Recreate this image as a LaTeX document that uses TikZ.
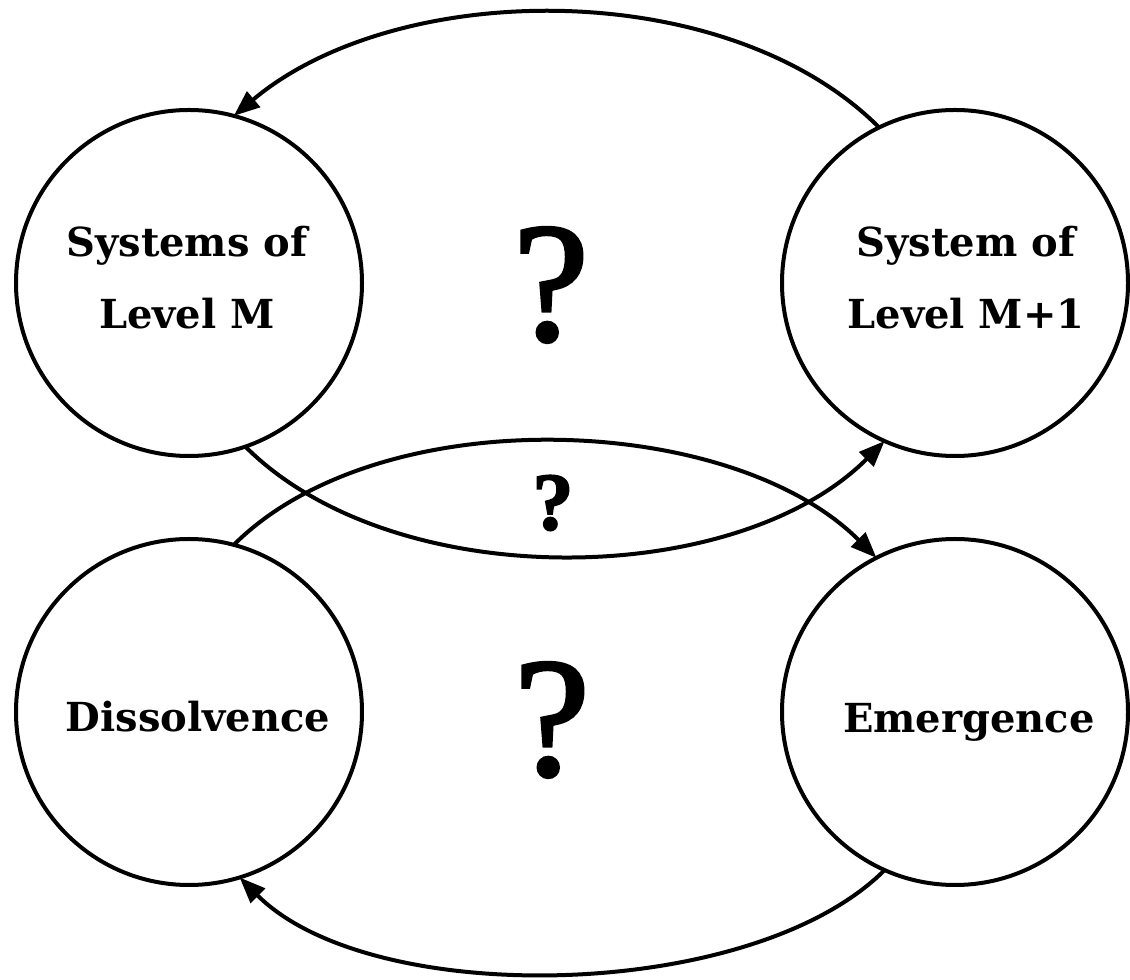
\documentclass[tikz,border=0pt]{standalone}
\usepackage{fontspec}
\setmainfont{DejaVu Serif}
\newfontfamily\qfont[FakeBold=2]{Liberation Serif}
\usetikzlibrary{arrows.meta}
\begin{document}
\begin{tikzpicture}[x=1pt,y=1pt,
  every node/.style={inner sep=0pt, outer sep=0pt},
  circ/.style={circle, draw, line width=4pt, minimum size=346pt},
  lbl/.style={font={\bfseries\fontsize{40pt}{72pt}\selectfont}, align=center},
  bigq/.style={font={\qfont\fontsize{170pt}{170pt}\selectfont}},
  smallq/.style={font={\qfont\bfseries\fontsize{82pt}{82pt}\selectfont}},
  link/.style={line width=4pt, -{Triangle[length=26pt,width=20pt]}}]
\useasboundingbox (0,0) rectangle (1130,980);

% the four states
\node[circ] (sysM)  at (189,697) {};
\node[circ] (sysM1) at (955,697) {};
\node[circ] (sysD)  at (189,268) {};
\node[circ] (sysE)  at (955,268) {};

\node[lbl] (tM)  at (187,702) {Systems of\\Level M};
\node[lbl] (tM1) at (966,702) {System of\\Level M+1};
\node[lbl] (tD)  at (198,263) {Dissolvence};
\node[lbl] (tE)  at (969,258) {Emergence};

% open questions
\node[bigq]   (q1) at (551,695) {?};
\node[smallq] (q2) at (553,477) {?};
\node[bigq]   (q3) at (552,260) {?};

% transitions
\draw[link] (sysM1.116) to[out=135,in=40,looseness=0.85] (sysM.75);
\draw[link] (sysM.289) to[out=-45,in=225,looseness=0.84] (sysM1.246);
\draw[link] (sysD.75) to[out=45,in=135,looseness=0.82] (sysE.117);
\draw[link] (sysE.246) to[out=225,in=-45,looseness=0.74] (sysD.287);
\end{tikzpicture}
\end{document}
